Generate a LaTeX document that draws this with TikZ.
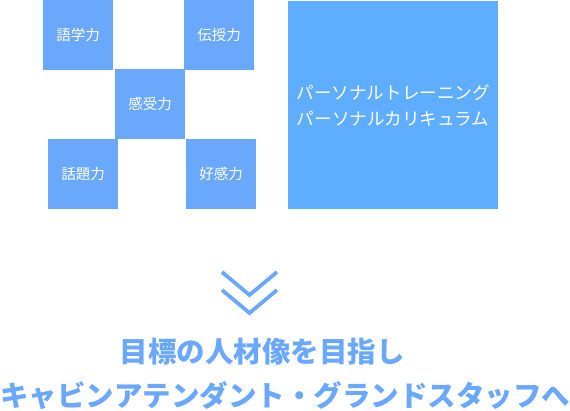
\documentclass[tikz,border=0pt]{standalone}
\usepackage{fontspec}
\newfontfamily\cjk{Noto Sans CJK JP}
\usetikzlibrary{positioning}
\definecolor{skill}{HTML}{6AA8FC}
\definecolor{plan}{HTML}{5FADFF}
\definecolor{goal}{HTML}{6AA8FF}

\begin{document}
\begin{tikzpicture}[x=1pt, y=-1pt,
  skillbox/.style={fill=skill, minimum size=70pt, inner sep=0pt, anchor=north west,
    text=white, font=\cjk\fontsize{14.5}{16}\selectfont},
  planbox/.style={fill=plan, minimum width=210pt, minimum height=208pt, inner sep=0pt,
    anchor=north west, text=white, align=center, font=\cjk\fontsize{17.6}{26}\selectfont},
  goaltext/.style={text=goal, inner sep=0pt, font=\cjk\bfseries\fontsize{28.5}{44}\selectfont}
 ]
 \useasboundingbox (0,0) rectangle (570,410);
 \node [skillbox] (gogaku) at (43,0) {語学力};
 \node [skillbox] (denju) at (184,0) {伝授力};
 \node [skillbox] (kanju) at (115,69) {感受力};
 \node [skillbox] (wadai) at (48,139) {話題力};
 \node [skillbox] (koukan) at (186,139) {好感力};
 \node [planbox] (plan) at (288,1) {パーソナルトレーニング\\パーソナルカリキュラム};

 % chevrons
 \foreach \y in {0,18} {
  \draw [goal, line width=3.8pt] (222,272+\y) -- (249.5,295+\y) -- (277,272+\y);
 }

 \node [goaltext] (aim) at (262,352) {目標の人材像を目指し};
 \node [goaltext] (staff) at (285,396) {キャビンアテンダント・グランドスタッフへ};
\end{tikzpicture}
\end{document}
